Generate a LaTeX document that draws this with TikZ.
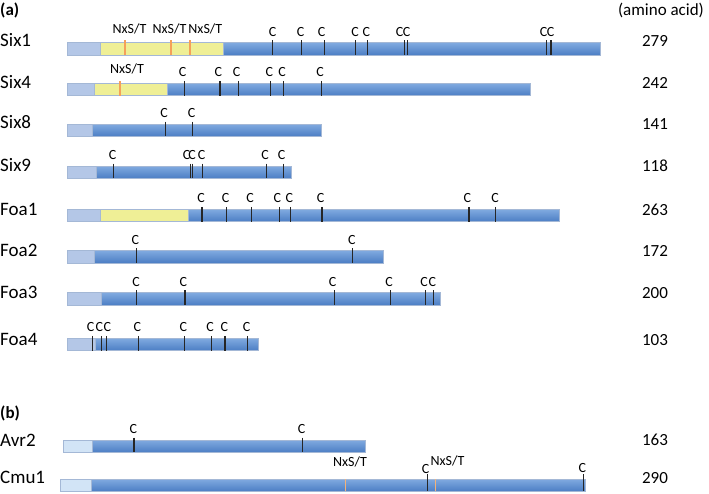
\documentclass[tikz,border=0pt]{standalone}
\usepackage{fontspec}
\setmainfont{Carlito}
\definecolor{lblue}{HTML}{B4C7E7}
\definecolor{llblue}{HTML}{D2E4F6}
\definecolor{btop}{HTML}{80AAE0}
\definecolor{bbot}{HTML}{4C7EC4}
\definecolor{yel}{HTML}{EFEF96}
\definecolor{edgec}{HTML}{A4B8D6}
\definecolor{org}{HTML}{F5A05A}
\definecolor{porg}{HTML}{F2B27A}
\tikzset{
  rowlab/.style={font=\fontsize{19}{19}\selectfont, anchor=base west, inner sep=0pt},
  numlab/.style={font=\fontsize{17}{17}\selectfont, anchor=base, inner sep=0pt},
  panlab/.style={font=\fontsize{17}{17}\selectfont\bfseries, anchor=base west, inner sep=0pt},
  clab/.style={font=\fontsize{14}{14}\selectfont, anchor=base, inner sep=0pt},
  ctick/.style={line width=1.1pt, black!85},
  otick/.style={line width=1.1pt, org},
  segline/.style={draw=edgec, line width=0.5pt},
}
% #1 top, #2 left, #3 light end, #4 yellow end, #5 right end, #6 light colour
\newcommand\protrow[6]{%
  \path[segline, top color=btop, bottom color=bbot] (#4,#1) rectangle (#5,#1+12.3);
  \path[segline, fill=yel] (#3,#1) rectangle (#4,#1+12.3);
  \path[segline, fill=#6] (#2,#1) rectangle (#3,#1+12.3);
}
\begin{document}
\begin{tikzpicture}[x=1pt,y=-1pt]
\useasboundingbox (0,0) rectangle (709,493);

\node[panlab] (pa) at (0,15) {(a)};
\node[numlab] (aa) at (661,15) {(amino acid)};

% ---------- Six1
\protrow{42.7}{67}{100}{223.3}{600}{lblue}
\node[rowlab] (six1) at (0,46.7) {Six1};
\node[numlab] (n279) at (655,46.7) {279};
\foreach \x in {125,171,190} \draw[otick] (\x,40.2) -- (\x,55);
\foreach \x [count=\i] in {129.5,169.5,205.3} \node[clab] (six1g\i) at (\x,33.3) {NxS/T};
\foreach \x in {272.7,301.7,324.3,355.7,367.3,404.3,407.7,546.7,551} \draw[ctick] (\x,40.2) -- (\x,55);
\foreach \x [count=\i] in {272.7,300.7,321.7,355,366.3,399.7,406.7,543.5,550.5} \node[clab] (six1c\i) at (\x,36.2) {C};

% ---------- Six4
\protrow{83.3}{67}{94}{167.7}{530.7}{lblue}
\node[rowlab] (six4) at (0,88.3) {Six4};
\node[numlab] (n242) at (655,88.3) {242};
\draw[otick] (120,80.8) -- (120,95.6);
\node[clab] (six4g1) at (127,73.3) {NxS/T};
\foreach \x in {184.3,220,238.7,270.7,283.3,321.7} \draw[ctick] (\x,80.8) -- (\x,95.6);
\foreach \x [count=\i] in {182.7,218.3,236.7,269.3,282,320} \node[clab] (six4c\i) at (\x,76.8) {C};

% ---------- Six8
\protrow{124}{67}{92.7}{92.7}{321}{lblue}
\node[rowlab] (six8) at (0,128.8) {Six8};
\node[numlab] (n141) at (655,129.5) {141};
\foreach \x in {165.7,192.3} \draw[ctick] (\x,121.5) -- (\x,136.3);
\foreach \x [count=\i] in {164,191.7} \node[clab] (six8c\i) at (\x,117.5) {C};

% ---------- Six9
\protrow{166}{67}{96}{96}{291.3}{lblue}
\node[rowlab] (six9) at (0,171.7) {Six9};
\node[numlab] (n118) at (655,171.7) {118};
\foreach \x in {113.3,190.7,192.7,202.7,266.7,283.3} \draw[ctick] (\x,163.5) -- (\x,178.3);
\foreach \x [count=\i] in {112.7,186.7,192.2,201.7,265,281.7} \node[clab] (six9c\i) at (\x,159.5) {C};

% ---------- Foa1
\protrow{209.3}{67}{100.7}{188.3}{559}{lblue}
\node[rowlab] (foa1) at (0,215) {Foa1};
\node[numlab] (n263) at (655,215) {263};
\foreach \x in {202,226.7,251.7,279.3,290.7,322,469,495.7} \draw[ctick] (\x,206.8) -- (\x,221.6);
\foreach \x [count=\i] in {201,225.7,250,277.3,289.3,320.7,467.3,495} \node[clab] (foa1c\i) at (\x,202.8) {C};

% ---------- Foa2
\protrow{250.5}{67}{94}{94}{383.3}{lblue}
\node[rowlab] (foa2) at (0,256.7) {Foa2};
\node[numlab] (n172) at (655,256.7) {172};
\foreach \x in {136.7,352.3} \draw[ctick] (\x,248) -- (\x,262.8);
\foreach \x [count=\i] in {135.3,351.8} \node[clab] (foa2c\i) at (\x,244) {C};

% ---------- Foa3
\protrow{292.7}{67}{101}{101}{440.7}{lblue}
\node[rowlab] (foa3) at (0,298.3) {Foa3};
\node[numlab] (n200) at (655,298.3) {200};
\foreach \x in {136.7,185,334.3,390.7,425.7,433.3} \draw[ctick] (\x,290.2) -- (\x,305);
\foreach \x [count=\i] in {136,183.3,332.7,389,424,432.3} \node[clab] (foa3c\i) at (\x,286.2) {C};

% ---------- Foa4
\protrow{338.3}{67}{95}{95}{258.3}{lblue}
\node[rowlab] (foa4) at (0,345) {Foa4};
\node[numlab] (n103) at (655,345) {103};
\foreach \x in {92.3,101.7,106.7,138.3,184.3,211.7,225,247.7} \draw[ctick] (\x,335.8) -- (\x,350.6);
\foreach \x [count=\i] in {90.7,99.3,107.3,137.3,183.3,210,224.3,246.7} \node[clab] (foa4c\i) at (\x,331.8) {C};

% ---------- panel (b)
\node[panlab] (pb) at (0,418) {(b)};

% ---------- Avr2
\protrow{440}{63.3}{92.7}{92.7}{365}{llblue}
\node[rowlab] (avr2) at (0,446.5) {Avr2};
\node[numlab] (n163) at (655,445) {163};
\foreach \x in {134,302.7} \draw[ctick] (\x,437.5) -- (\x,452.3);
\foreach \x [count=\i] in {133.3,301.5} \node[clab] (avr2c\i) at (\x,433.5) {C};

% ---------- Cmu1
\protrow{479}{60.7}{91}{91}{585.7}{llblue}
\node[rowlab] (cmu1) at (0,483.3) {Cmu1};
\node[numlab] (n290) at (655,483.3) {290};
\foreach \x in {345.7,435.7} \draw[line width=1pt, porg] (\x,479) -- (\x,491.3);
\foreach \x in {427.3,583.3} \draw[ctick] (\x,474) -- (\x,491.3);
\node[clab] (cmu1g1) at (350,466.3) {NxS/T};
\node[clab] (cmu1g2) at (447.5,465.8) {NxS/T};
\node[clab] (cmu1c1) at (425.7,473) {C};
\node[clab] (cmu1c2) at (582.3,472.3) {C};
\end{tikzpicture}
\end{document}
